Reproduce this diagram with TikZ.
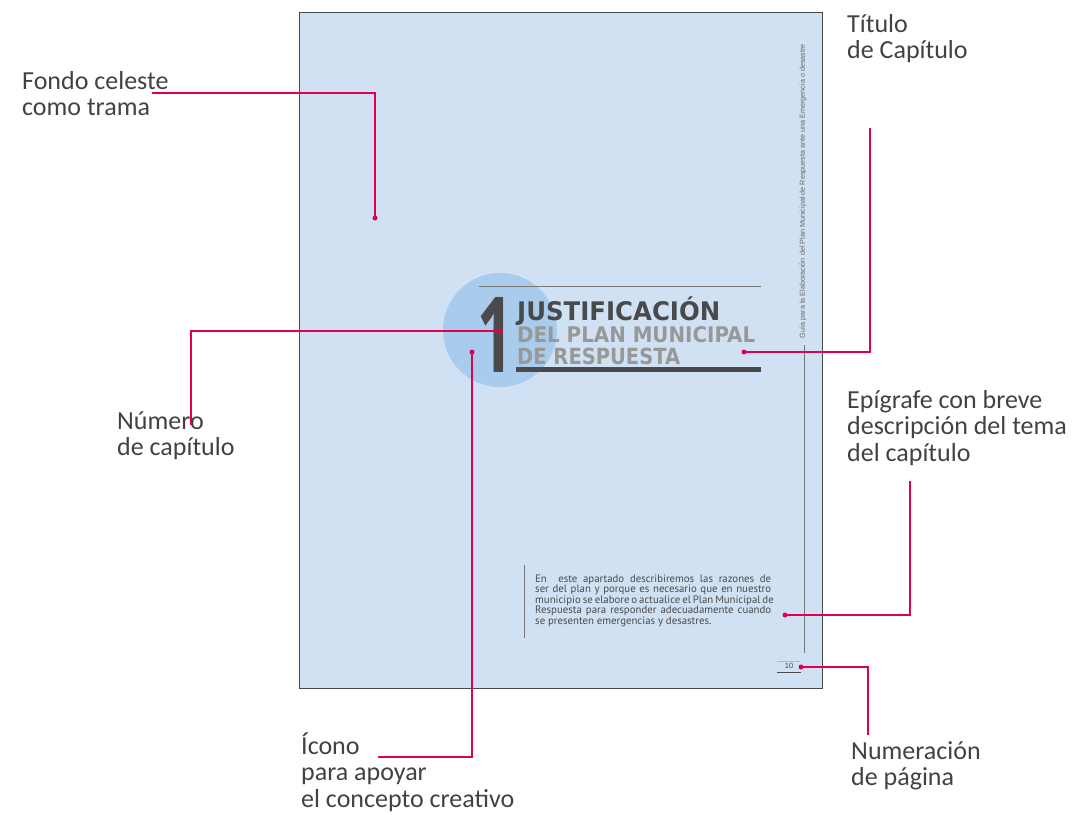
\documentclass[tikz,border=0pt]{standalone}
\usepackage{graphicx}
\usepackage{fontspec}
\setmainfont{Carlito}
\newfontfamily\titlefont{DejaVu Sans}
\newfontfamily\onefont{Open Sans}
\newfontfamily\bodyfont{PT Sans}
\newfontfamily\smallfont{Liberation Sans}
\definecolor{pagebg}{RGB}{207,225,242}
\definecolor{circbg}{RGB}{169,204,236}
\definecolor{dgray}{RGB}{74,74,76}
\definecolor{lgray}{RGB}{152,152,152}
\definecolor{lbl}{RGB}{66,66,66}
\definecolor{mag}{RGB}{224,0,80}
\definecolor{rule}{RGB}{120,120,120}
\begin{document}
\begin{tikzpicture}[x=1pt,y=-1pt,
  label text/.style={anchor=base west, inner sep=0, text=lbl, font=\fontsize{26}{26.7}\selectfont},
  dot/.style={circle, fill=mag, inner sep=0, minimum size=5pt},
  leader/.style={draw=mag, line width=1.3pt},
  thinrule/.style={draw=rule, line width=0.6pt}]
\useasboundingbox (0,0) rectangle (1083,814);
\fill[white] (0,0) rectangle (1083,814);
% page
\node[draw=dgray, line width=0.8pt, fill=pagebg, minimum width=523pt, minimum height=676pt, anchor=north west, inner sep=0] (page) at (299,12) {};
% icon circle
\node[circle, fill=circbg, minimum size=114pt, inner sep=0] (circ) at (500,330) {};
% top rule and thick rule
\coordinate (r1a) at (479,286); \coordinate (r1b) at (761,286);
\draw[thinrule] (r1a) -- (r1b);
\coordinate (r2a) at (516,369.5); \coordinate (r2b) at (761,369.5);
\draw[draw=dgray, line width=4.5pt] (r2a) -- (r2b);
% chapter number and title
\node[anchor=base west, inner sep=0, text=dgray] (num) at (477,372) {\resizebox{36pt}{75pt}{\onefont\bfseries 1}};
\node[anchor=base west, inner sep=0, text=dgray] (t1) at (517,320) {\resizebox{203pt}{19pt}{\titlefont\bfseries JUSTIFICACI\smash{Ó}N}};
\node[anchor=base west, inner sep=0, text=lgray] (t2) at (517,342) {\resizebox{238pt}{16pt}{\titlefont\bfseries DEL PLAN MUNICIPAL}};
\node[anchor=base west, inner sep=0, text=lgray] (t3) at (517,364) {\resizebox{163pt}{16.5pt}{\titlefont\bfseries DE RESPUESTA}};
% vertical running title and rule
\node[rotate=90, inner sep=0, text=rule!85!black] (guia) at (803,191) {\resizebox{294pt}{!}{\smallfont\fontsize{7}{8}\selectfont Guía para la Elaboración del Plan Municipal de Respuesta ante una Emergencia o desastre}};
\coordinate (v1) at (804,345); \coordinate (v2) at (804,653);
\draw[draw=rule, line width=0.5pt] (v1) -- (v2);
% epigraph
\coordinate (e1) at (524,565); \coordinate (e2) at (524,638);
\draw[draw=rule, line width=0.6pt] (e1) -- (e2);
\node[anchor=base west, inner sep=0, text=dgray] (epi) at (535,582) {\bodyfont\fontsize{10.8}{10.6}\selectfont\vtop{%
\hbox to 236pt{En\ \ este apartado describiremos las razones de}
\hbox to 236pt{ser del plan y porque es necesario que en nuestro}
\hbox to 236pt{municipio se elabore o actualice el Plan Municipal de}
\hbox to 236pt{Respuesta para responder adecuadamente cuando}
\hbox{se presenten emergencias y desastres.}}};
% page number
\coordinate (p1) at (777,661); \coordinate (p2) at (800,661);
\draw[draw=lgray!70, line width=0.5pt] (p1) -- (p2);
\coordinate (p3) at (777,672); \coordinate (p4) at (801,672);
\draw[draw=dgray, line width=0.6pt] (p3) -- (p4);
\node[inner sep=0, text=dgray] (pnum) at (789,666) {\smallfont\fontsize{7.5}{8}\selectfont 10};
% labels
\node[label text] (lfondo) at (22,89) {\vtop{\hbox{Fondo celeste}\hbox{como trama}}};
\node[label text] (ltitulo) at (847,32) {\vtop{\hbox{Título}\hbox{de Capítulo}}};
\node[label text] (lnumero) at (117,429) {\vtop{\hbox{Número}\hbox{de capítulo}}};
\node[label text] (lepi) at (847,408) {\vtop{\hbox{Epígrafe con breve}\hbox{descripción del tema}\hbox{del capítulo}}};
\node[label text] (licono) at (301,754) {\vtop{\hbox{Ícono}\hbox{para apoyar}\hbox{el concepto creativo}}};
\node[label text] (lnumer) at (851,759) {\vtop{\hbox{Numeración}\hbox{de página}}};
% dots
\node[dot] (dfondo) at (375,218) {};
\node[dot] (dnum) at (500,331) {};
\node[dot] (dicono) at (472,352) {};
\node[dot] (dtitulo) at (744,352) {};
\node[dot] (depi) at (785,615) {};
\node[dot] (dpag) at (801,667) {};
% leader ends
\coordinate (cfondo) at (152,93);
\coordinate (cnum) at (191,425);
\coordinate (cicono) at (378,757);
\coordinate (ctitulo) at (870,128);
\coordinate (cepi) at (910,481);
\coordinate (cpag) at (868,735);
% leaders
\draw[leader] (cfondo) -| (dfondo.center);
\draw[leader] (dnum.center) -| (cnum);
\draw[leader] (dicono.center) |- (cicono);
\draw[leader] (dtitulo.center) -| (ctitulo);
\draw[leader] (depi.center) -| (cepi);
\draw[leader] (dpag.center) -| (cpag);
\end{tikzpicture}
\end{document}
